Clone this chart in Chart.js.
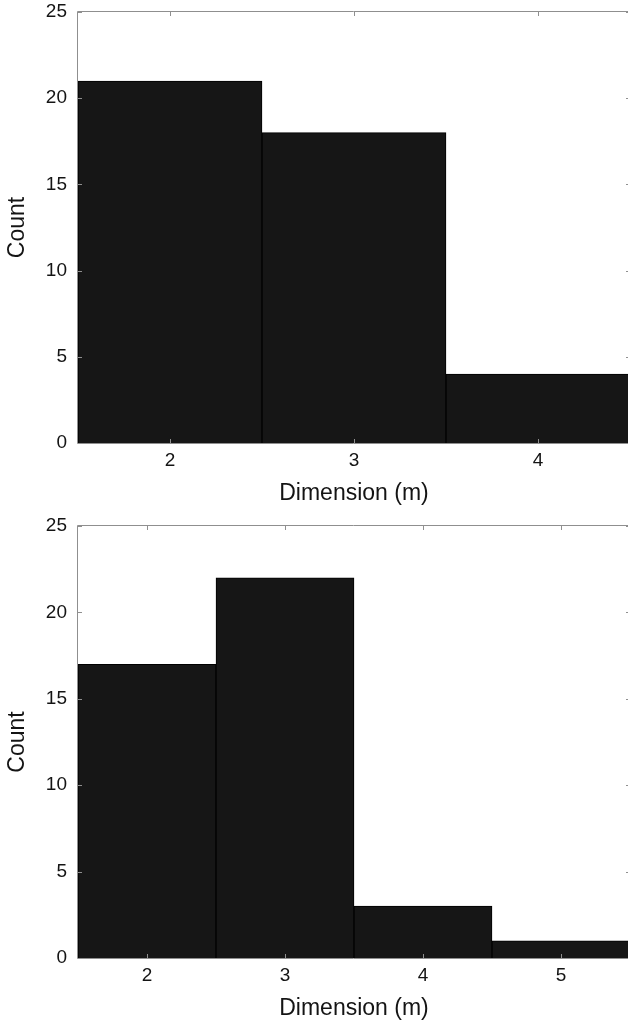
<!DOCTYPE html>
<html>
<head>
<meta charset="utf-8">
<script src="https://cdn.jsdelivr.net/npm/chart.js@4.4.1/dist/chart.umd.min.js"></script>
<style>
  html, body { margin: 0; padding: 0; background: #fff; width: 628px; height: 1025px; overflow: hidden; }
  .wrap { position: absolute; left: 0; }
  canvas { display: block; }
</style>
</head>
<body>
<div class="wrap" style="top:0px"><canvas id="c1" width="640" height="510"></canvas></div>
<div class="wrap" style="top:512px"><canvas id="c2" width="640" height="513"></canvas></div>
<script>
// ---- data ----
const topCategories = ['2', '3', '4'];
const topCounts = [21, 18, 4];
const bottomCategories = ['2', '3', '4', '5'];
const bottomCounts = [17, 22, 3, 1];
const yMin = 0;
const yMax = 25;
const yStep = 5;
const xTitle = 'Dimension (m)';
const yTitle = 'Count';

const FONT = "'Liberation Sans', Arial, Helvetica, sans-serif";
const AXIS_COLOR = '#8f8f8f';
const TEXT_COLOR = '#141414';

const frameTicks = {
  id: 'frameTicks',
  afterDatasetsDraw(chart) {
    const {ctx, chartArea: a, scales: {x, y}} = chart;
    ctx.save();
    ctx.strokeStyle = AXIS_COLOR;
    ctx.lineWidth = 1;
    ctx.beginPath();
    ctx.rect(Math.round(a.left) - 0.5, Math.round(a.top) - 0.5, Math.round(a.right - a.left), Math.round(a.bottom - a.top) + 1);
    ctx.stroke();
    const L = 4;
    ctx.beginPath();
    for (let i = 0; i < x.ticks.length; i++) {
      const px = Math.round(x.getPixelForTick(i)) + 0.5;
      ctx.moveTo(px, a.top); ctx.lineTo(px, a.top + L);
      ctx.moveTo(px, a.bottom); ctx.lineTo(px, a.bottom - L);
    }
    for (let i = 0; i < y.ticks.length; i++) {
      const py = Math.round(y.getPixelForTick(i)) + 0.5;
      ctx.moveTo(a.left, py); ctx.lineTo(a.left + L, py);
      ctx.moveTo(a.right, py); ctx.lineTo(a.right - L, py);
    }
    ctx.stroke();
    ctx.restore();
  }
};

function makeChart(id, labels, values, topPad, xHeight) {
  return new Chart(document.getElementById(id), {
    type: 'bar',
    data: {
      labels: labels,
      datasets: [{
        data: values,
        backgroundColor: '#161616',
        borderColor: '#000000',
        borderWidth: 1,
        categoryPercentage: 1.0,
        barPercentage: 1.0
      }]
    },
    options: {
      responsive: false,
      animation: false,
      layout: { padding: { left: 0, top: topPad, right: 10, bottom: 0 } },
      plugins: { legend: { display: false }, tooltip: { enabled: false } },
      scales: {
        x: {
          type: 'category',
          offset: true,
          grid: { display: false, drawTicks: false },
          border: { display: false },
          ticks: { color: TEXT_COLOR, font: { family: FONT, size: 19 }, padding: 6, maxRotation: 0 },
          title: { display: true, text: xTitle, color: TEXT_COLOR, font: { family: FONT, size: 23 }, padding: { top: 0, bottom: 3 } },
          afterFit(scale) { scale.height = xHeight; scale.paddingLeft = 0; scale.paddingRight = 0; }
        },
        y: {
          min: yMin,
          max: yMax,
          grid: { display: false, drawTicks: false },
          border: { display: false },
          ticks: { stepSize: yStep, color: TEXT_COLOR, font: { family: FONT, size: 19 }, padding: 11 },
          title: { display: true, text: yTitle, color: TEXT_COLOR, font: { family: FONT, size: 23 }, padding: { top: 4, bottom: 0 } },
          afterFit(scale) { scale.width = 78; scale.paddingTop = 0; scale.paddingBottom = 0; }
        }
      }
    },
    plugins: [frameTicks]
  });
}

makeChart('c1', topCategories, topCounts, 12, 67);
makeChart('c2', bottomCategories, bottomCounts, 14, 67);
</script>
</body>
</html>
